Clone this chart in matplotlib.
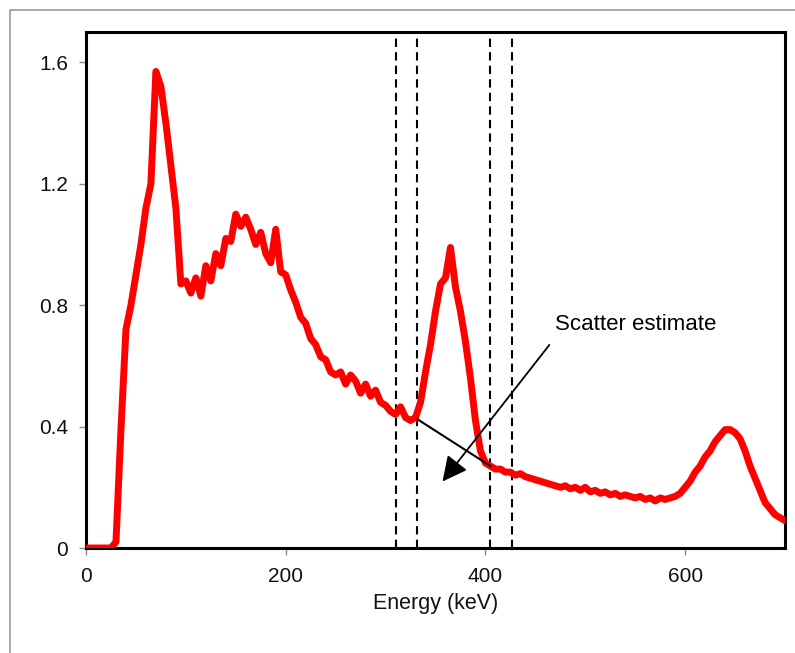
import numpy as np
import matplotlib.pyplot as plt
from matplotlib.patches import Rectangle

plt.rcParams['font.family'] = ['Liberation Sans', 'DejaVu Sans']

# spectrum (5 keV bins)
energy = np.arange(0, 705, 5)
counts = [
    0.00, 0.00, 0.00, 0.00, 0.00, 0.00, 0.02, 0.39, 0.72, 0.80,   # 0-45
    0.90, 1.00, 1.12, 1.20, 1.57, 1.52, 1.40, 1.26, 1.12, 0.87,   # 50-95
    0.88, 0.84, 0.89, 0.83, 0.93, 0.88, 0.97, 0.93, 1.02, 1.01,   # 100-145
    1.10, 1.06, 1.09, 1.05, 1.00, 1.04, 0.97, 0.94, 1.05, 0.91,   # 150-195
    0.90, 0.85, 0.81, 0.76, 0.74, 0.69, 0.67, 0.63, 0.62, 0.58,   # 200-245
    0.57, 0.58, 0.54, 0.57, 0.55, 0.51, 0.54, 0.50, 0.52, 0.48,   # 250-295
    0.47, 0.45, 0.44, 0.465, 0.43, 0.42, 0.43, 0.48, 0.58, 0.67,  # 300-345
    0.78, 0.87, 0.89, 0.99, 0.86, 0.78, 0.68, 0.56, 0.42, 0.32,   # 350-395
    0.28, 0.27, 0.26, 0.26, 0.25, 0.25, 0.24, 0.245, 0.235, 0.23, # 400-445
    0.225, 0.22, 0.215, 0.21, 0.205, 0.20, 0.205, 0.195, 0.20, 0.19,  # 450-495
    0.20, 0.185, 0.19, 0.18, 0.185, 0.175, 0.18, 0.17, 0.175, 0.17,   # 500-545
    0.165, 0.17, 0.16, 0.165, 0.155, 0.165, 0.16, 0.165, 0.17, 0.18,  # 550-595
    0.20, 0.22, 0.25, 0.27, 0.30, 0.32, 0.35, 0.37, 0.39, 0.39,   # 600-645
    0.38, 0.36, 0.32, 0.27, 0.23, 0.19, 0.15, 0.13, 0.11, 0.10,   # 650-695
    0.09,                                                         # 700
]

# energy windows (dashed) and scatter estimate line
window_edges = [310, 331, 405, 427]
scatter_x = [332, 405]
scatter_y = [0.424, 0.27]

xticks = [0, 200, 400, 600]
yticks = [0, 0.4, 0.8, 1.2, 1.6]
ytick_labels = ["0", "0.4", "0.8", "1.2", "1.6"]

fig = plt.figure(figsize=(7.95, 6.53), dpi=100)
# light grey frame round the figure
fig.patches.append(Rectangle((10 / 795, -0.1), 1.2, 1.1 - 10 / 653,
                             transform=fig.transFigure, fill=False,
                             edgecolor="#9a9a9a", linewidth=1.2))

ax = fig.add_axes([86 / 795, 105 / 653, 699 / 795, 516 / 653])

ax.plot(energy, counts, color="#ff0000", linewidth=5,
        solid_joinstyle="round", solid_capstyle="round", zorder=3)

for xv in window_edges:
    ax.axvline(xv, color="black", linestyle=(0, (4, 2.5)), linewidth=1.5, zorder=2)

ax.plot(scatter_x, scatter_y, color="black", linewidth=1.5, zorder=4)

ax.annotate("", xy=(357, 0.219), xytext=(464, 0.669),
            arrowprops=dict(arrowstyle="-|>", color="black", lw=1.3,
                            mutation_scale=38, shrinkA=0, shrinkB=0),
            zorder=5)
ax.text(470, 0.735, "Scatter estimate", fontsize=16, va="center", ha="left")

ax.set_xlim(0, 700)
ax.set_ylim(0, 1.70)
ax.set_xticks(xticks)
ax.set_yticks(yticks)
ax.set_yticklabels(ytick_labels)
ax.tick_params(axis="both", colors="#8a8a8a", labelcolor="#111111",
               labelsize=15, length=5, width=1)
ax.tick_params(axis="x", pad=9)
ax.tick_params(axis="y", pad=8)
ax.set_xlabel("Energy (keV)", fontsize=15.5, labelpad=5, color="#111111")

for side in ["top", "right", "left", "bottom"]:
    ax.spines[side].set_linewidth(2.2)
    ax.spines[side].set_color("black")

fig.savefig("out.png", dpi=100)
